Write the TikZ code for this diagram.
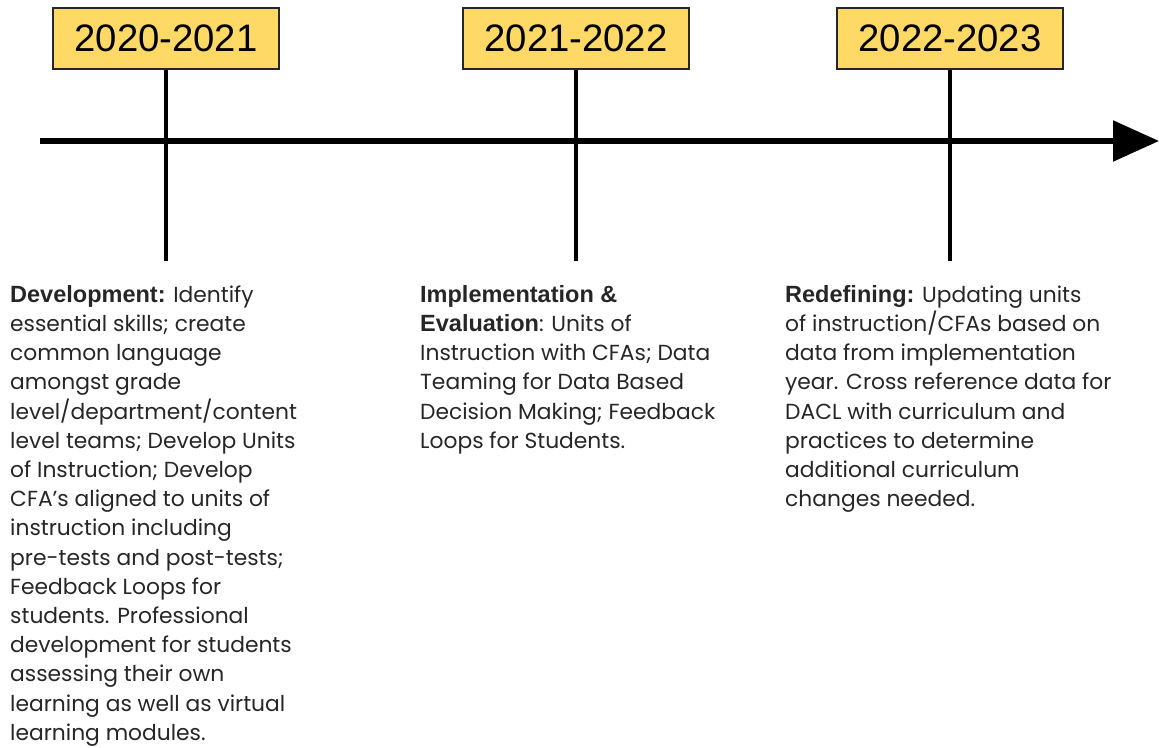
\documentclass[tikz,border=0pt]{standalone}
\usepackage{fontspec}
\setmainfont{Poppins}
\newfontfamily\headfont{Liberation Sans}
\usetikzlibrary{arrows.meta}
\definecolor{yearfill}{HTML}{FFD966}
\definecolor{bodytext}{HTML}{262626}
\tikzset{
  yearbox/.style={draw=black!85, line width=1.2pt, fill=yearfill, minimum width=226pt, minimum height=61pt, inner sep=0pt, font=\headfont\fontsize{38.3}{40}\selectfont},
  tick/.style={line width=4pt, draw=black},
  axis/.style={line width=5.5pt, draw=black, -{Triangle[length=46pt,width=40pt]}},
  desc/.style={anchor=north west, inner sep=0pt, align=left, text=bodytext, font=\fontsize{21.8}{29.2}\selectfont},
}
\newcommand{\hd}[1]{{\headfont\bfseries\fontsize{23.5}{29.2}\selectfont #1}}
\begin{document}
\begin{tikzpicture}[x=1pt,y=-1pt]
\useasboundingbox (0,0) rectangle (1159,747);
% year boxes
\node[yearbox] (y1) at (166,38.5) {2020-2021};
\node[yearbox] (y2) at (576,38.5) {2021-2022};
\node[yearbox] (y3) at (950,38.5) {2022-2023};
% tick ends
\coordinate (t1) at (166,261);
\coordinate (t2) at (576,261);
\coordinate (t3) at (950,261);
\draw[tick] (y1.south) -- (t1);
\draw[tick] (y2.south) -- (t2);
\draw[tick] (y3.south) -- (t3);
% axis
\coordinate (a0) at (40,141);
\coordinate (a1) at (1159,141);
\draw[axis] (a0) -- (a1);
% descriptions
\node[desc] (d1) at (10,285) {\hd{Development:} Identify\\
essential skills; create\\
common language\\
amongst grade\\
level/department/content\\
level teams; Develop Units\\
of Instruction; Develop\\
CFA’s aligned to units of\\
instruction including\\
pre-tests and post-tests;\\
Feedback Loops for\\
students. Professional\\
development for students\\
assessing their own\\
learning as well as virtual\\
learning modules.};
\node[desc] (d2) at (420,285) {\hd{Implementation \&}\\
\hd{Evaluation}: Units of\\
Instruction with CFAs; Data\\
Teaming for Data Based\\
Decision Making; Feedback\\
Loops for Students.};
\node[desc] (d3) at (785,285) {\hd{Redefining:} Updating units\\
of instruction/CFAs based on\\
data from implementation\\
year. Cross reference data for\\
DACL with curriculum and\\
practices to determine\\
additional curriculum\\
changes needed.};
\end{tikzpicture}
\end{document}
